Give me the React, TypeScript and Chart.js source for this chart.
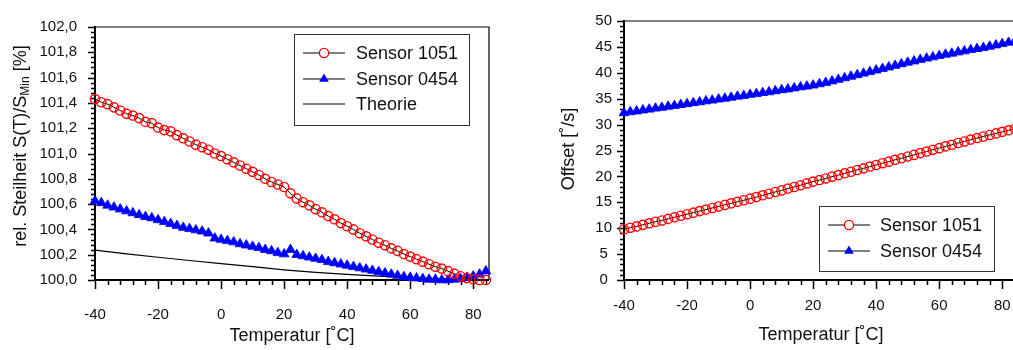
import React, { useEffect, useRef } from "react";
import { Chart, registerables } from "chart.js";

Chart.register(...registerables);

// ---------- data ----------
const temps = [
  -40, -38, -36, -34, -32, -30, -28, -26, -24, -22, -20, -18, -16, -14, -12, -10, -8, -6, -4, -2,
  0, 2, 4, 6, 8, 10, 12, 14, 16, 18, 20, 22, 24, 26, 28, 30, 32, 34, 36, 38, 40, 42, 44, 46, 48,
  50, 52, 54, 56, 58, 60, 62, 64, 66, 68, 70, 72, 74, 76, 78, 80, 82, 84,
];

const slopeS1051 = [
  101.43, 101.405, 101.39, 101.365, 101.34, 101.315, 101.3, 101.28, 101.25, 101.24, 101.205,
  101.185, 101.175, 101.145, 101.12, 101.095, 101.07, 101.05, 101.03, 101.0, 100.98, 100.955,
  100.93, 100.905, 100.88, 100.855, 100.83, 100.8, 100.775, 100.755, 100.735, 100.685, 100.645,
  100.615, 100.59, 100.56, 100.535, 100.505, 100.48, 100.45, 100.425, 100.4, 100.37, 100.345,
  100.32, 100.295, 100.275, 100.25, 100.23, 100.205, 100.185, 100.165, 100.145, 100.125, 100.105,
  100.09, 100.07, 100.05, 100.03, 100.015, 100.005, 100.0, 100.0,
];

const slopeS0454 = [
  100.625, 100.61, 100.59, 100.575, 100.56, 100.545, 100.53, 100.515, 100.5, 100.49, 100.475,
  100.46, 100.445, 100.43, 100.415, 100.405, 100.395, 100.385, 100.37, 100.33, 100.32, 100.31,
  100.3, 100.285, 100.275, 100.265, 100.255, 100.24, 100.23, 100.215, 100.205, 100.24, 100.2,
  100.19, 100.18, 100.17, 100.16, 100.145, 100.135, 100.125, 100.115, 100.105, 100.095, 100.085,
  100.075, 100.065, 100.055, 100.045, 100.035, 100.025, 100.02, 100.015, 100.01, 100.005, 100.005,
  100.0, 100.0, 100.005, 100.01, 100.02, 100.03, 100.045, 100.07,
];

const theoryTemps = [-40, -30, -20, -10, 0, 10, 20, 30, 40, 50, 60, 70, 80, 85];
const theoryValues = [
  100.236, 100.207, 100.18, 100.154, 100.13, 100.105, 100.08, 100.06, 100.044, 100.03, 100.019,
  100.009, 100.002, 100.0,
];

const offsetS1051 = [
  9.8, 10.1, 10.35, 10.65, 10.95, 11.25, 11.5, 11.8, 12.1, 12.4, 12.7, 13.0, 13.3, 13.6, 13.9, 14.2,
  14.5, 14.8, 15.1, 15.4, 15.7, 16.0, 16.35, 16.65, 17.0, 17.3, 17.65, 17.95, 18.3, 18.65, 19.0,
  19.3, 19.6, 19.95, 20.25, 20.6, 20.9, 21.25, 21.55, 21.9, 22.2, 22.55, 22.85, 23.2, 23.5, 23.85,
  24.15, 24.5, 24.8, 25.15, 25.45, 25.8, 26.1, 26.45, 26.75, 27.1, 27.4, 27.7, 28.0, 28.3, 28.6,
  28.9, 29.2,
];

const offsetS0454 = [
  32.25, 32.45, 32.6, 32.8, 32.95, 33.15, 33.3, 33.5, 33.65, 33.85, 34.0, 34.2, 34.35, 34.55, 34.7,
  34.9, 35.05, 35.25, 35.45, 35.6, 35.8, 35.95, 36.15, 36.3, 36.5, 36.7, 36.85, 37.05, 37.25, 37.4,
  37.6, 37.85, 38.1, 38.4, 38.7, 39.0, 39.3, 39.6, 39.9, 40.2, 40.5, 40.8, 41.1, 41.4, 41.7, 42.0,
  42.25, 42.55, 42.8, 43.05, 43.3, 43.55, 43.75, 44.0, 44.2, 44.45, 44.65, 44.85, 45.1, 45.35,
  45.6, 45.85, 46.1,
];

const xTickValues = [-40, -20, 0, 20, 40, 60, 80];
const slopeTickValues = [100.0, 100.2, 100.4, 100.6, 100.8, 101.0, 101.2, 101.4, 101.6, 101.8, 102.0];
const offsetTickValues = [0, 5, 10, 15, 20, 25, 30, 35, 40, 45, 50];

const seriesNames = ["Sensor 1051", "Sensor 0454", "Theorie"];
const xTitle = "Temperatur [˚C]";

// ---------- styling ----------
const FONT = "'Liberation Sans', Arial, sans-serif";
const TEXT = "#111111";
const RED = "#ff0000";
const BLUE = "#0000ff";
const TRI_R = 5.6;
const CIRC_R = 4.6;

type Piece = { text: string; sub?: boolean };

function drawFrame(chart: any, cfg: any) {
  const ctx: CanvasRenderingContext2D = chart.ctx;
  const a = chart.chartArea;
  const xs = chart.scales.x;
  const ys = chart.scales.y;
  ctx.save();
  ctx.strokeStyle = "#000";
  ctx.lineWidth = 1.2;
  ctx.beginPath();
  ctx.moveTo(a.left, a.top);
  ctx.lineTo(a.right, a.top);
  ctx.lineTo(a.right, a.bottom);
  ctx.stroke();
  ctx.lineWidth = 2;
  ctx.beginPath();
  ctx.moveTo(a.left, a.top - 1);
  ctx.lineTo(a.left, a.bottom);
  ctx.lineTo(a.right, a.bottom);
  ctx.stroke();
  ctx.lineWidth = 1.5;
  ctx.beginPath();
  for (let v = xs.min; v <= xs.max + 1e-9; v += cfg.xMinor) {
    const major = xTickValues.some((t) => Math.abs(t - v) < 1e-6);
    const px = Math.round(xs.getPixelForValue(v)) + 0.5;
    ctx.moveTo(px, a.bottom);
    ctx.lineTo(px, a.bottom + (major ? 9 : 5));
  }
  ctx.stroke();
  ctx.beginPath();
  const n = Math.round((ys.max - ys.min) / cfg.yMinor);
  for (let i = 0; i <= n; i++) {
    const v = ys.min + i * cfg.yMinor;
    const major = cfg.yTicks.some((t: number) => Math.abs(t - v) < 1e-6);
    const py = Math.round(ys.getPixelForValue(v)) + 0.5;
    ctx.moveTo(a.left, py);
    ctx.lineTo(a.left - (major ? 7 : 4), py);
  }
  ctx.stroke();
  ctx.restore();
}

function drawTitles(chart: any, cfg: any) {
  const ctx: CanvasRenderingContext2D = chart.ctx;
  const a = chart.chartArea;
  ctx.save();
  ctx.fillStyle = TEXT;
  ctx.font = `18px ${FONT}`;
  ctx.textAlign = "center";
  ctx.textBaseline = "middle";
  ctx.fillText(xTitle, (a.left + a.right) / 2, cfg.xTitleY);

  const pieces: Piece[] = cfg.yTitle;
  const mainFont = `18px ${FONT}`;
  const subFont = `12px ${FONT}`;
  let total = 0;
  const widths = pieces.map((p) => {
    ctx.font = p.sub ? subFont : mainFont;
    const w = ctx.measureText(p.text).width;
    total += w;
    return w;
  });
  ctx.translate(cfg.yTitleX, cfg.yTitleY);
  ctx.rotate(-Math.PI / 2);
  ctx.textAlign = "left";
  let x = -total / 2;
  pieces.forEach((p, i) => {
    ctx.font = p.sub ? subFont : mainFont;
    ctx.fillText(p.text, x, p.sub ? 5 : 0);
    x += widths[i];
  });
  ctx.restore();
}

function drawMarker(ctx: CanvasRenderingContext2D, style: string, x: number, y: number) {
  if (style === "circle") {
    ctx.beginPath();
    ctx.arc(x, y, CIRC_R, 0, Math.PI * 2);
    ctx.fillStyle = "#fff";
    ctx.fill();
    ctx.strokeStyle = RED;
    ctx.lineWidth = 1.4;
    ctx.stroke();
  } else if (style === "triangle") {
    const r = TRI_R;
    ctx.beginPath();
    ctx.moveTo(x, y - r);
    ctx.lineTo(x + r * 0.866, y + r * 0.5);
    ctx.lineTo(x - r * 0.866, y + r * 0.5);
    ctx.closePath();
    ctx.fillStyle = BLUE;
    ctx.fill();
  }
}

function drawLegend(chart: any, cfg: any) {
  const ctx: CanvasRenderingContext2D = chart.ctx;
  const L = cfg.legend;
  ctx.save();
  ctx.fillStyle = "#fff";
  ctx.fillRect(L.x, L.y, L.w, L.h);
  ctx.strokeStyle = "#333";
  ctx.lineWidth = 1;
  ctx.strokeRect(L.x + 0.5, L.y + 0.5, L.w, L.h);
  L.items.forEach((it: any, i: number) => {
    const y = L.rowY[i];
    ctx.strokeStyle = "#000";
    ctx.lineWidth = 1.2;
    ctx.beginPath();
    ctx.moveTo(L.lineX0, y);
    ctx.lineTo(L.lineX1, y);
    ctx.stroke();
    if (it.marker) drawMarker(ctx, it.marker, (L.lineX0 + L.lineX1) / 2, y);
    ctx.fillStyle = TEXT;
    ctx.font = `18px ${FONT}`;
    ctx.textAlign = "left";
    ctx.textBaseline = "middle";
    ctx.fillText(it.label, L.textX, y + 1);
  });
  ctx.restore();
}

function makeFramePlugin(cfg: any) {
  return {
    id: "frameDeco",
    beforeDatasetsDraw(chart: any) {
      drawFrame(chart, cfg);
    },
    afterDraw(chart: any) {
      drawTitles(chart, cfg);
      drawLegend(chart, cfg);
    },
  };
}

function buildConfig(cfg: any, datasets: any[]) {
  return {
    type: "line",
    data: { datasets },
    options: {
      animation: false,
      responsive: false,
      devicePixelRatio: 1,
      layout: { padding: { top: 17, right: 31, left: 0, bottom: 0 } },
      plugins: { legend: { display: false }, tooltip: { enabled: false } },
      scales: {
        x: {
          type: "linear",
          min: -40,
          max: 85,
          grid: { display: false, drawTicks: false },
          border: { display: false },
          ticks: {
            color: TEXT,
            font: { family: FONT, size: 15 },
            padding: cfg.xTickPad,
            maxRotation: 0,
            autoSkip: false,
            includeBounds: false,
            callback: (v: any) => String(v),
          },
          afterBuildTicks: (s: any) => {
            s.ticks = xTickValues.map((v) => ({ value: v }));
          },
          afterFit: (s: any) => {
            s.height = 70;
          },
        },
        y: {
          type: "linear",
          min: cfg.yMin,
          max: cfg.yMax,
          grid: { display: false, drawTicks: false },
          border: { display: false },
          ticks: {
            color: TEXT,
            font: { family: FONT, size: 15 },
            padding: cfg.yTickPad,
            crossAlign: cfg.yCross,
            autoSkip: false,
            includeBounds: false,
            callback: cfg.yFormat,
          },
          afterBuildTicks: (s: any) => {
            s.ticks = cfg.yTicks.map((v: number) => ({ value: v }));
          },
          afterFit: (s: any) => {
            s.width = 95;
          },
        },
      },
    },
    plugins: [makeFramePlugin(cfg)],
  };
}

function pts(xs: number[], ys: number[]) {
  return xs.map((x, i) => ({ x, y: ys[i] }));
}

const series1051Style = {
  borderColor: "#000",
  borderWidth: 1,
  pointStyle: "circle",
  pointRadius: CIRC_R,
  pointBorderColor: RED,
  pointBackgroundColor: "rgba(0,0,0,0)",
  pointBorderWidth: 1.4,
  tension: 0,
  fill: false,
  clip: false,
};
const series0454Style = {
  borderColor: "#000",
  borderWidth: 1,
  pointStyle: "triangle",
  pointRadius: TRI_R,
  pointBorderColor: BLUE,
  pointBackgroundColor: BLUE,
  pointBorderWidth: 0.8,
  tension: 0,
  fill: false,
  clip: false,
};

function ChartCanvas({ make }: { make: () => any }) {
  const ref = useRef<HTMLCanvasElement | null>(null);
  useEffect(() => {
    if (!ref.current) return;
    const chart = new Chart(ref.current, make());
    return () => chart.destroy();
  }, []);
  return <canvas ref={ref} width={520} height={350} style={{ width: 520, height: 350, display: "block" }} />;
}

const slopeCfg = {
  yMin: 100,
  yMax: 102,
  yTicks: slopeTickValues,
  yMinor: 0.04,
  xMinor: 4,
  xTickPad: 26,
  yTickPad: 18,
  yCross: "near",
  yFormat: (v: any) => Number(v).toFixed(1).replace(".", ","),
  xTitleY: 336,
  yTitleX: 21,
  yTitleY: 146,
  yTitle: [{ text: "rel. Steilheit S(T)/S" }, { text: "Min", sub: true }, { text: " [%]" }],
  legend: {
    x: 294,
    y: 34,
    w: 175,
    h: 91,
    rowY: [53, 79, 104],
    lineX0: 303,
    lineX1: 345,
    textX: 356,
    items: [
      { label: seriesNames[0], marker: "circle" },
      { label: seriesNames[1], marker: "triangle" },
      { label: seriesNames[2], marker: null },
    ],
  },
};

const offsetCfg = {
  yMin: 0,
  yMax: 50,
  yTicks: offsetTickValues,
  yMinor: 1,
  xMinor: 4,
  xTickPad: 17,
  yTickPad: 12,
  yCross: "center",
  yFormat: (v: any) => String(v),
  xTitleY: 335,
  yTitleX: 40,
  yTitleY: 149,
  yTitle: [{ text: "Offset [˚/s]" }],
  legend: {
    x: 290,
    y: 206,
    w: 175,
    h: 65,
    rowY: [225, 251],
    lineX0: 299,
    lineX1: 341,
    textX: 351,
    items: [
      { label: seriesNames[0], marker: "circle" },
      { label: seriesNames[1], marker: "triangle" },
    ],
  },
};

export default function App() {
  return (
    <div
      style={{
        position: "absolute",
        left: 0,
        top: 0,
        width: 1013,
        height: 350,
        overflow: "hidden",
        background: "#fff",
      }}
    >
      <div style={{ position: "absolute", left: 0, top: 0 }}>
        <ChartCanvas
          make={() =>
            buildConfig(slopeCfg, [
              { label: seriesNames[0], data: pts(temps, slopeS1051), ...series1051Style },
              { label: seriesNames[1], data: pts(temps, slopeS0454), ...series0454Style },
              {
                label: seriesNames[2],
                data: pts(theoryTemps, theoryValues),
                borderColor: "#000",
                borderWidth: 1.2,
                pointRadius: 0,
                tension: 0,
                fill: false,
              },
            ])
          }
        />
      </div>
      <div style={{ position: "absolute", left: 529, top: 0 }}>
        <ChartCanvas
          make={() =>
            buildConfig(offsetCfg, [
              { label: seriesNames[0], data: pts(temps, offsetS1051), ...series1051Style },
              { label: seriesNames[1], data: pts(temps, offsetS0454), ...series0454Style },
            ])
          }
        />
      </div>
    </div>
  );
}
